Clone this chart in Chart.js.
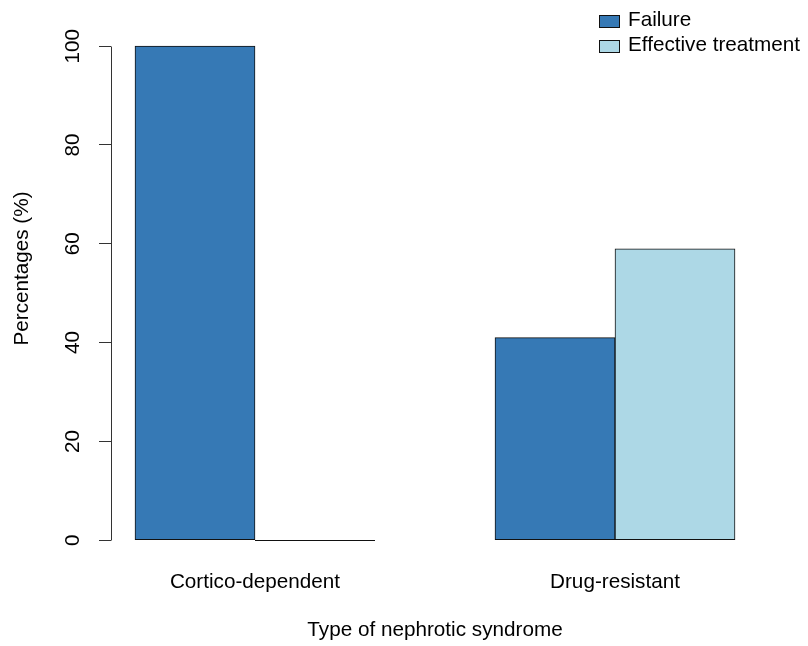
<!DOCTYPE html>
<html>
<head>
<meta charset="utf-8">
<script src="https://cdn.jsdelivr.net/npm/chart.js@4"></script>
<style>
  body { margin: 0; background: #fff; }
  /* the R figure's plot region starts above the visible top edge, so the canvas is shifted up */
  #clip { width: 808px; height: 646px; overflow: hidden; position: relative; }
  #wrap { position: absolute; left: 0; top: -25px; width: 808px; height: 671px; }
</style>
</head>
<body>
<div id="clip"><div id="wrap"><canvas id="chart"></canvas></div></div>
<script>
const categories = ["Cortico-dependent", "Drug-resistant"];
const seriesLabels = ["Failure", "Effective treatment"];
const failureValues = [100, 41];
const effectiveValues = [0, 59];
const seriesColors = ["#3679B5", "#ADD8E6"];
const yTicks = [0, 20, 40, 60, 80, 100];

const FONT = '"Liberation Sans", Arial, sans-serif';
const FONT_SIZE = 20.7;

// barplot(beside = TRUE) layout: each group starts one bar-width after the previous one
function barX(groupIndex, seriesIndex) {
    return 1.5 + groupIndex * 3 + seriesIndex;
}
const groupCenters = categories.map((c, i) => 2 + i * 3);

const datasets = [failureValues, effectiveValues].map((values, s) => ({
    label: seriesLabels[s],
    data: values.map((v, i) => ({ x: barX(i, s), y: v })),
    backgroundColor: seriesColors[s],
    borderColor: "#111",
    borderWidth: 1,
    borderSkipped: false,
    barPercentage: 1,
    categoryPercentage: 1,
    grouped: false
}));

// axis line only between the outer ticks, zero-height bars as a line, and the legend box
const extras = {
    id: "extras",
    afterDatasetsDraw(chart) {
        const ctx = chart.ctx;
        ctx.save();
        ctx.strokeStyle = "#111";
        ctx.lineWidth = 1;
        chart.data.datasets.forEach((ds, d) => {
            chart.getDatasetMeta(d).data.forEach((bar, i) => {
                if (ds.data[i].y === 0) {
                    const p = bar.getProps(["x", "width", "base"], true);
                    const y = Math.round(p.base) + 0.5;
                    ctx.beginPath();
                    ctx.moveTo(p.x - p.width / 2, y);
                    ctx.lineTo(p.x + p.width / 2, y);
                    ctx.stroke();
                }
            });
        });

        const yScale = chart.scales.y;
        const ax = Math.round(chart.chartArea.left) + 0.5;
        ctx.strokeStyle = "#333";
        ctx.beginPath();
        ctx.moveTo(ax, Math.round(yScale.getPixelForValue(yTicks[0])) + 0.5);
        ctx.lineTo(ax, Math.round(yScale.getPixelForValue(yTicks[yTicks.length - 1])) + 0.5);
        ctx.stroke();
        ctx.restore();
    },
    afterDraw(chart) {
        const ctx = chart.ctx;
        ctx.save();
        ctx.font = FONT_SIZE + "px " + FONT;
        ctx.textBaseline = "alphabetic";
        ctx.textAlign = "left";
        chart.data.datasets.forEach((ds, i) => {
            const top = 40 + i * 25;
            ctx.fillStyle = ds.backgroundColor;
            ctx.fillRect(599, top, 20, 12);
            ctx.strokeStyle = "#111";
            ctx.lineWidth = 1;
            ctx.strokeRect(599.5, top + 0.5, 20, 12);
            ctx.fillStyle = "#000";
            ctx.fillText(ds.label, 628, top + 11);
        });
        ctx.restore();
    }
};

new Chart(document.getElementById("chart"), {
    type: "bar",
    data: { datasets: datasets },
    plugins: [extras],
    options: {
        responsive: true,
        maintainAspectRatio: false,
        animation: false,
        layout: { padding: { top: 0, right: 49, bottom: 0, left: 0 } },
        plugins: {
            legend: { display: false },
            tooltip: { enabled: false }
        },
        scales: {
            x: {
                type: "linear",
                min: 0.8,
                max: 6.2,
                offset: false,
                afterBuildTicks: (scale) => {
                    scale.ticks = groupCenters.map(v => ({ value: v }));
                },
                afterFit: (scale) => {
                    scale.height = 84;
                    scale.paddingLeft = 0;
                    scale.paddingRight = 0;
                },
                grid: { display: false, drawTicks: false },
                border: { display: false },
                ticks: {
                    autoSkip: false,
                    maxRotation: 0,
                    padding: 8,
                    color: "#000",
                    font: { family: FONT, size: FONT_SIZE },
                    callback: (value) => categories[groupCenters.indexOf(value)]
                },
                title: {
                    display: true,
                    text: "Type of nephrotic syndrome",
                    color: "#000",
                    font: { family: FONT, size: FONT_SIZE },
                    padding: { top: 0, bottom: 3 }
                }
            },
            y: {
                min: -4.4,
                max: 114.4,
                afterBuildTicks: (scale) => {
                    scale.ticks = yTicks.map(v => ({ value: v }));
                },
                afterFit: (scale) => {
                    scale.width = 111;
                    scale.paddingTop = 0;
                    scale.paddingBottom = 0;
                },
                grid: {
                    display: true,
                    drawOnChartArea: false,
                    drawTicks: true,
                    tickLength: 12,
                    color: "#333",
                    lineWidth: 1
                },
                border: { display: false },
                ticks: {
                    minRotation: 90,
                    maxRotation: 90,
                    crossAlign: "center",
                    padding: 8,
                    color: "#000",
                    font: { family: FONT, size: FONT_SIZE }
                },
                title: {
                    display: true,
                    text: "Percentages (%)",
                    color: "#000",
                    font: { family: FONT, size: FONT_SIZE },
                    padding: { top: 10, bottom: 0 }
                }
            }
        }
    }
});
</script>
</body>
</html>
